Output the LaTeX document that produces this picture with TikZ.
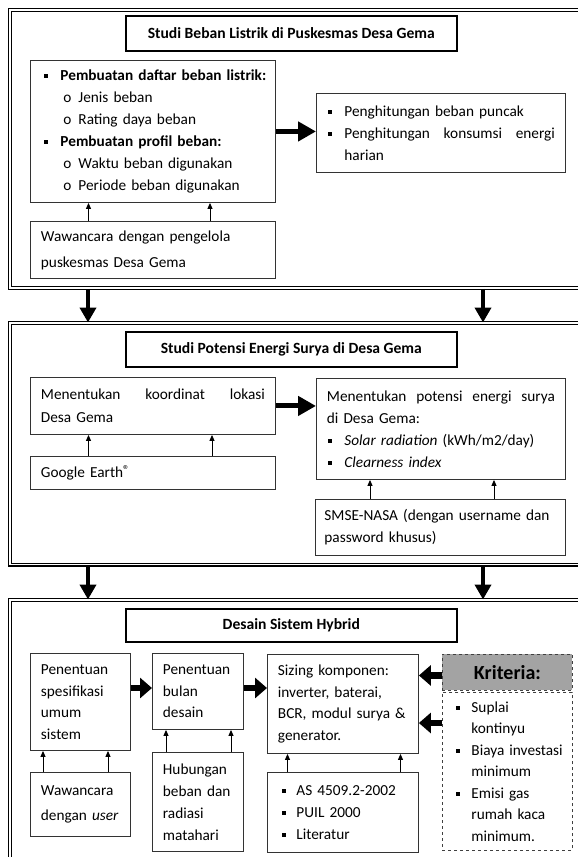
\documentclass[tikz,border=0pt]{standalone}
\usepackage{fontspec}
\setmainfont{Carlito}
\usepackage{tikz}
\usetikzlibrary{arrows.meta}
\definecolor{kritgray}{RGB}{163,163,163}
\newcommand{\sqb}[2]{\makebox[#2][l]{\hspace*{#1}\rule[2.6pt]{4pt}{4pt}}}
\newcommand{\subo}{\makebox[38pt][l]{\hspace*{23pt}o}}

\begin{document}
\begin{tikzpicture}[x=1pt,y=-1pt,font=\fontsize{15.3}{22}\selectfont,
  frame node/.style={draw,double,line width=1.3pt,double distance=1.5pt,anchor=north west,inner sep=0pt},
  title node/.style={draw,line width=1.6pt,anchor=north west,minimum width=331,inner sep=0pt,font=\bfseries\fontsize{15.6}{22}\selectfont},
  block node/.style={draw=black!80,line width=0.9pt,anchor=north west,inner xsep=10.5pt,inner ysep=0pt,align=left},
  crit node/.style={draw=black!75,dashed,line width=0.9pt,anchor=north west,inner xsep=8pt,inner ysep=0pt},
  down arrow/.style={-{Triangle[width=16pt,length=15pt]},line width=4.5pt},
  fat arrow/.style={-{Triangle[width=19pt,length=18pt]},line width=5pt},
  short arrow/.style={-{Triangle[width=20pt,length=12pt]},line width=6.5pt},
  up arrow/.style={-{Triangle[width=5pt,length=6pt]},line width=0.9pt}]

  \useasboundingbox (0,0) rectangle (578,857);
  \clip (0,0) rectangle (578,857);

  % tahap 1
  \node[frame node,minimum width=620,minimum height=278] (100) at (9.5,9.5) {};
  \node[title node,minimum height=35] (11) at (125,15) {Studi Beban Listrik di Puskesmas Desa Gema};
  \node[block node,inner xsep=10pt,minimum width=245,text width=225,minimum height=142] (12) at (30,60)
    {\sqb{4pt}{20pt}\mbox{\textbf{Pembuatan daftar beban listrik:}}\\
     \subo Jenis beban\\
     \subo Rating daya beban\\
     \sqb{4pt}{20pt}\mbox{\textbf{Pembuatan profil beban:}}\\
     \subo Waktu beban digunakan\\
     \subo Periode beban digunakan};
  \node[block node,minimum width=249,text width=228,minimum height=79] (13) at (316,93)
    {\sqb{1.5pt}{17.5pt}Penghitungan beban puncak\\
     \sqb{1.5pt}{17.5pt}Penghitungan\hfill konsumsi\hfill energi\\
     \hspace*{17.5pt}harian};
  \node[block node,minimum width=245,text width=224,minimum height=57,font=\fontsize{15.3}{26}\selectfont] (14) at (30,221)
    {Wawancara dengan pengelola\\puskesmas Desa Gema};

  % tahap 2
  \node[frame node,minimum width=620,minimum height=241.5] (200) at (9.5,322.5) {};
  \node[title node,minimum height=35] (21) at (125,331) {Studi Potensi Energi Surya di Desa Gema};
  \node[block node,minimum width=245,text width=224,minimum height=57,font=\fontsize{15.3}{23}\selectfont] (22) at (30,377)
    {Menentukan\hfill koordinat\hfill lokasi\\Desa Gema};
  \node[block node,minimum width=245,text width=224,minimum height=33] (23) at (30,456)
    {Google Earth\raisebox{3.5pt}{\fontsize{13}{13}\selectfont\textregistered}};
  \node[block node,minimum width=249,text width=228,minimum height=101] (24) at (316,378)
    {Menentukan\hfill potensi\hfill energi\hfill surya\\
     di Desa Gema:\\
     \sqb{1.5pt}{17.5pt}\textit{Solar radiation} (kWh/m2/day)\\
     \sqb{1.5pt}{17.5pt}\textit{Clearness index}};
  \node[block node,inner xsep=9pt,minimum width=250,text width=232,minimum height=56] (25) at (315,499)
    {SMSE-NASA (dengan username dan\\password khusus)};

  % tahap 3
  \node[frame node,minimum width=620,minimum height=300] (300) at (9.5,599.5) {};
  \node[title node,minimum height=33] (31) at (125,608) {Desain Sistem Hybrid};
  \node[block node,minimum width=100,text width=79,minimum height=97,font=\fontsize{15.3}{21.5}\selectfont] (32) at (30,653)
    {Penentuan\\spesifikasi\\umum\\sistem};
  \node[block node,minimum width=100,text width=79,minimum height=64,font=\fontsize{15.3}{25}\selectfont] (33) at (30,772)
    {Wawancara\\dengan \textit{user}};
  \node[block node,minimum width=91,text width=70,minimum height=76,font=\fontsize{15.3}{21.5}\selectfont] (34) at (152,653)
    {Penentuan\\bulan\\desain};
  \node[block node,minimum width=91,text width=70,minimum height=99] (35) at (152,752)
    {Hubungan\\beban dan\\radiasi\\matahari};
  \node[block node,minimum width=151,text width=130,minimum height=99,font=\fontsize{15.3}{21.5}\selectfont] (36) at (267,654)
    {Sizing komponen:\\inverter, baterai,\\BCR, modul surya \&\\generator.};
  \node[block node,minimum width=151,text width=130,minimum height=80] (37) at (267,772)
    {\sqb{4.5pt}{18.5pt}AS 4509.2-2002\\
     \sqb{4.5pt}{18.5pt}PUIL 2000\\
     \sqb{4.5pt}{18.5pt}Literatur};
  \node[crit node,fill=kritgray,minimum width=130,minimum height=36,font=\bfseries\fontsize{20}{24}\selectfont] (38) at (442,654) {Kriteria:};
  \node[crit node,minimum width=130,text width=114,minimum height=158,align=left,font=\fontsize{15.3}{21.5}\selectfont] (39) at (442,692)
    {\sqb{6pt}{21pt}Suplai\\
     \hspace*{21pt}kontinyu\\
     \sqb{6pt}{21pt}Biaya investasi\\
     \hspace*{21pt}minimum\\
     \sqb{6pt}{21pt}Emisi gas\\
     \hspace*{21pt}rumah kaca\\
     \hspace*{21pt}minimum.};

  % panah
  \draw[down arrow] ([xshift=78.5pt]100.south west) to ([xshift=78.5pt]200.north west);
  \draw[down arrow] ([xshift=473.5pt]100.south west) to ([xshift=473.5pt]200.north west);
  \draw[down arrow] ([xshift=78.5pt]200.south west) to ([xshift=78.5pt]300.north west);
  \draw[down arrow] ([xshift=473.5pt]200.south west) to ([xshift=473.5pt]300.north west);

  \draw[fat arrow] (12.east) to (12.east -| 13.west);
  \draw[fat arrow] (22.east) to (22.east -| 24.west);
  \draw[short arrow] ([yshift=-35pt]32.north east) to ([yshift=-35pt]32.north east -| 34.west);
  \draw[short arrow] ([yshift=-35pt]34.north east) to ([yshift=-35pt]34.north east -| 36.west);
  \draw[short arrow] ([yshift=-3pt]38.west) to ([yshift=-3pt]38.west -| 36.east);
  \draw[short arrow] ([yshift=-31pt]39.north west) to ([yshift=-31pt]39.north west -| 36.east);

  \draw[up arrow] ([xshift=58.5pt]14.north west) to ([xshift=58.5pt]14.north west |- 12.south);
  \draw[up arrow] ([xshift=180pt]14.north west) to ([xshift=180pt]14.north west |- 12.south);
  \draw[up arrow] ([xshift=58.5pt]23.north west) to ([xshift=58.5pt]23.north west |- 22.south);
  \draw[up arrow] ([xshift=182pt]23.north west) to ([xshift=182pt]23.north west |- 22.south);
  \draw[up arrow] ([xshift=55pt]25.north west) to ([xshift=55pt]25.north west |- 24.south);
  \draw[up arrow] ([xshift=179pt]25.north west) to ([xshift=179pt]25.north west |- 24.south);
  \draw[up arrow] ([xshift=13pt]33.north west) to ([xshift=13pt]33.north west |- 32.south);
  \draw[up arrow] ([xshift=78pt]33.north west) to ([xshift=78pt]33.north west |- 32.south);
  \draw[up arrow] ([xshift=14pt]35.north west) to ([xshift=14pt]35.north west |- 34.south);
  \draw[up arrow] ([xshift=79pt]35.north west) to ([xshift=79pt]35.north west |- 34.south);
  \draw[up arrow] ([xshift=20.5pt]37.north west) to ([xshift=20.5pt]37.north west |- 36.south);
  \draw[up arrow] ([xshift=133.5pt]37.north west) to ([xshift=133.5pt]37.north west |- 36.south);
\end{tikzpicture}
\end{document}
